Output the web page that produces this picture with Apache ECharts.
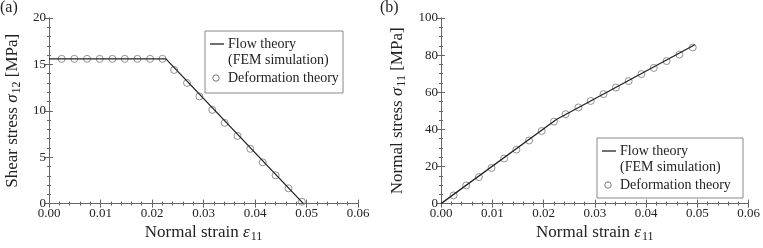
<!DOCTYPE html>
<html><head><meta charset="utf-8">
<script src="https://cdn.jsdelivr.net/npm/echarts@6/dist/echarts.min.js"></script>
<style>html,body{margin:0;padding:0;background:#fff}#c{width:763px;height:248px}</style>
</head><body><div id="c"></div>
<script>
// ---- data ----
const strainPts = [0.00246, 0.00492, 0.00739, 0.00985, 0.01231, 0.01471, 0.01717, 0.01963, 0.02203, 0.0243,
                   0.0268, 0.0292, 0.0317, 0.0341, 0.0366, 0.0391, 0.0415, 0.0440, 0.0465, 0.0491];
const shearDef = [15.6, 15.6, 15.6, 15.6, 15.6, 15.6, 15.6, 15.6, 15.6, 14.4,
                  13.0, 11.55, 10.1, 8.7, 7.3, 5.9, 4.45, 3.05, 1.65, 0.2];
const normalDef = [4.4, 9.8, 14.3, 19.2, 24.3, 29.1, 34.0, 39.1, 44.2, 48.2,
                   51.8, 55.3, 59.0, 62.5, 66.0, 69.8, 73.1, 76.8, 80.3, 84.1];
const flowShearX = [0, 0.0227, 0.0494];
const flowShearY = [15.6, 15.6, 0];
const flowNormalX = [0, 0.0225, 0.0495];
const flowNormalY = [0, 45.3, 85.6];
const xTicks = [0, 0.06, 0.01];       // min, max, interval
const yTicksA = [0, 20, 5];
const yTicksB = [0, 100, 20];
const legendLabels = ['Flow theory', '(FEM simulation)', 'Deformation theory'];

const FONT = 'Liberation Serif';
const frame = '#666';
const zip = (a, b) => a.map((v, i) => [v, b[i]]);
const richName = {
  t: {fontFamily: FONT, fontSize: 17, color: '#222'},
  i: {fontFamily: FONT, fontSize: 17, fontStyle: 'italic', color: '#222'},
  s: {fontFamily: FONT, fontSize: 12, color: '#222', padding: [8, 0, 0, 1]}
};

function xAxis(grid, pos, labels) {
  return {
    type: 'value', gridIndex: grid, position: pos,
    min: xTicks[0], max: xTicks[1], interval: xTicks[2],
    axisLine: {show: true, lineStyle: {color: frame, width: 1}},
    axisTick: {show: true, inside: true, length: 4, lineStyle: {color: frame}},
    minorTick: {show: true, splitNumber: 5, length: 2, lineStyle: {color: frame}},
    splitLine: {show: false},
    axisLabel: {show: labels, margin: 3, color: '#222', fontFamily: FONT, fontSize: 13,
                formatter: v => v.toFixed(2)},
    name: labels ? '{t|Normal strain }{i|ε}{s|11}' : '',
    nameLocation: 'middle', nameGap: 18,
    nameTextStyle: {rich: richName}
  };
}
function yAxis(grid, pos, labels, t, name, gap, minorN) {
  return {
    type: 'value', gridIndex: grid, position: pos,
    min: t[0], max: t[1], interval: t[2],
    axisLine: {show: true, lineStyle: {color: frame, width: 1}},
    axisTick: {show: true, inside: true, length: 4, lineStyle: {color: frame}},
    minorTick: {show: true, splitNumber: minorN, length: 2, lineStyle: {color: frame}},
    splitLine: {show: false},
    axisLabel: {show: labels, margin: 3, color: '#222', fontFamily: FONT, fontSize: 13},
    name: labels ? name : '',
    nameLocation: 'middle', nameGap: gap, nameRotate: 90,
    nameTextStyle: {rich: richName}
  };
}

function legend(x0, y0, w, h) {
  const tx = {fontFamily: FONT, fontSize: 14, fill: '#222'};
  return [
    {type: 'rect', shape: {x: x0, y: y0, width: w, height: h}, style: {fill: '#fff', stroke: '#888', lineWidth: 1}, z: 50},
    {type: 'line', shape: {x1: x0 + 5, y1: y0 + 13, x2: x0 + 19, y2: y0 + 13}, style: {stroke: '#222', lineWidth: 1.3}, z: 51},
    {type: 'circle', shape: {cx: x0 + 11, cy: y0 + 47, r: 3.2}, style: {fill: 'none', stroke: '#777', lineWidth: 1}, z: 51},
    {type: 'text', x: x0 + 23, y: y0 + 13, style: Object.assign({text: legendLabels[0], verticalAlign: 'middle'}, tx), z: 51},
    {type: 'text', x: x0 + 23, y: y0 + 29, style: Object.assign({text: legendLabels[1], verticalAlign: 'middle'}, tx), z: 51},
    {type: 'text', x: x0 + 23, y: y0 + 47, style: Object.assign({text: legendLabels[2], verticalAlign: 'middle'}, tx), z: 51}
  ];
}

const chart = echarts.init(document.getElementById('c'), null, {renderer: 'canvas'});
chart.setOption({
  animation: false,
  backgroundColor: '#fff',
  grid: [
    {left: 49, top: 18, width: 309, height: 191},
    {left: 441, top: 18, width: 309, height: 191}
  ],
  xAxis: [xAxis(0, 'bottom', true), xAxis(0, 'top', false), xAxis(1, 'bottom', true), xAxis(1, 'top', false)],
  yAxis: [
    yAxis(0, 'left', true, yTicksA, '{t|Shear stress }{i|σ}{s|12}{t| [MPa]}', 26, 5),
    yAxis(0, 'right', false, yTicksA, '', 0, 5),
    yAxis(1, 'left', true, yTicksB, '{t|Normal stress }{i|σ}{s|11}{t| [MPa]}', 33, 4),
    yAxis(1, 'right', false, yTicksB, '', 0, 4)
  ],
  graphic: [
    {type: 'text', left: 0, top: 0, style: {text: '(a)', fontFamily: FONT, fontSize: 16, fill: '#222'}},
    {type: 'text', left: 380, top: 0, style: {text: '(b)', fontFamily: FONT, fontSize: 16, fill: '#222'}},
    ...legend(205, 31, 138, 62),
    ...legend(597, 138, 146, 60)
  ],
  series: [
    {type: 'line', xAxisIndex: 0, yAxisIndex: 0, data: zip(flowShearX, flowShearY), showSymbol: false,
     lineStyle: {color: '#222', width: 1.3}, z: 3},
    {type: 'scatter', xAxisIndex: 0, yAxisIndex: 0, data: zip(strainPts, shearDef), symbol: 'circle', symbolSize: 7,
     itemStyle: {color: 'rgba(0,0,0,0)', borderColor: '#777', borderWidth: 1}, z: 2},
    {type: 'line', xAxisIndex: 2, yAxisIndex: 2, data: zip(flowNormalX, flowNormalY), showSymbol: false,
     lineStyle: {color: '#222', width: 1.3}, z: 3},
    {type: 'scatter', xAxisIndex: 2, yAxisIndex: 2, data: zip(strainPts, normalDef), symbol: 'circle', symbolSize: 7,
     itemStyle: {color: 'rgba(0,0,0,0)', borderColor: '#777', borderWidth: 1}, z: 2}
  ]
});
</script></body></html>
